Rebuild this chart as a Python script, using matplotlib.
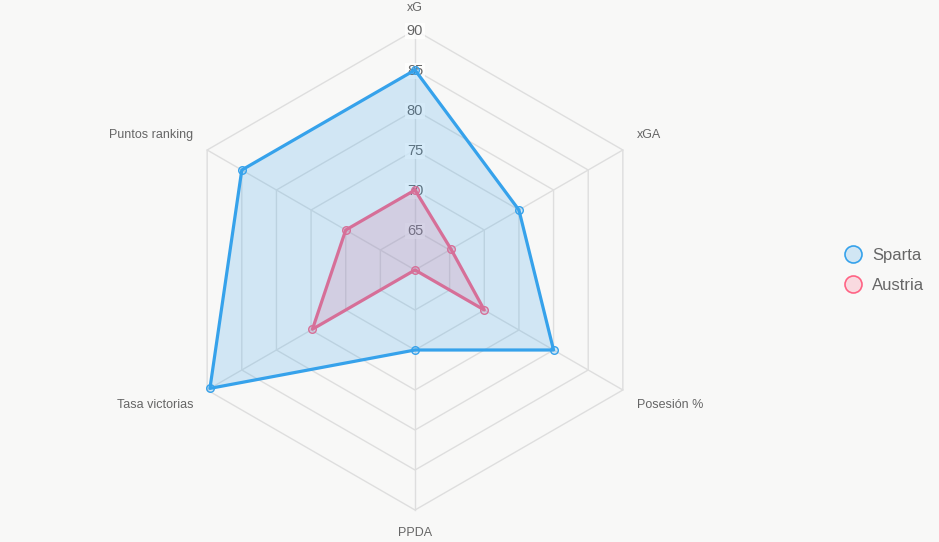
import numpy as np
import matplotlib.pyplot as plt

plt.rcParams['font.family'] = ['Liberation Sans', 'DejaVu Sans']

labels = ["xG", "xGA", "Posesión %", "PPDA", "Tasa victorias", "Puntos ranking"]
sparta = [85, 75, 80, 70, 89.6, 85]
austria = [70, 65.2, 70, 60, 74.8, 70]
ticks = [65, 70, 75, 80, 85, 90]
rmin = 60
rmax = 90

W, H = 939, 542
bg = "#f8f8f7"
cx, cy, R = 415, 270, 240

fig = plt.figure(figsize=(W/100, H/100), dpi=100, facecolor=bg)
ax = fig.add_axes([0, 0, 1, 1])
ax.set_xlim(0, W)
ax.set_ylim(H, 0)
ax.set_facecolor(bg)
ax.axis("off")

n = len(labels)
ang = np.arange(n) * 2*np.pi/n

def xy(vals):
    r = (np.asarray(vals, float) - rmin) / (rmax - rmin) * R
    x = cx + r*np.sin(ang)
    y = cy - r*np.cos(ang)
    return np.append(x, x[0]), np.append(y, y[0])

# grid
grid_col = "#dedede"
for t in ticks:
    gx, gy = xy([t]*n)
    ax.plot(gx, gy, color=grid_col, lw=1, zorder=1)
for i in range(n):
    ax.plot([cx, cx + R*np.sin(ang[i])], [cy, cy - R*np.cos(ang[i])], color=grid_col, lw=1, zorder=1)

# tick labels (under the data, like the scale)
for t in ticks:
    r = (t - rmin) / (rmax - rmin) * R
    ax.text(cx, cy - r + 1, str(t), ha="center", va="center", fontsize=10.5, color="#666666", zorder=1.5,
            bbox=dict(boxstyle="square,pad=0.1", fc=(1, 1, 1, 0.75), ec="none"))

# Austria (drawn below)
ax_, ay_ = xy(austria)
ax.fill(ax_, ay_, color=(1, 99/255, 132/255, 0.2), lw=0, zorder=2)
ax.plot(ax_, ay_, color="#FF6384", lw=2.3, zorder=3)
ax.scatter(ax_[:-1], ay_[:-1], s=30, facecolor=(1, 99/255, 132/255, 0.2), edgecolor="#FF6384", lw=1, zorder=4)

# Sparta on top
sx, sy = xy(sparta)
ax.fill(sx, sy, color=(54/255, 162/255, 235/255, 0.2), lw=0, zorder=5)
ax.plot(sx, sy, color="#36A2EB", lw=2.3, zorder=6)
ax.scatter(sx[:-1], sy[:-1], s=30, facecolor=(54/255, 162/255, 235/255, 0.2), edgecolor="#36A2EB", lw=1, zorder=7)

# point labels
lx, ly = xy([rmax]*n)
offs = [(0, -22, "center"), (14, -15, "left"), (14, 15, "left"),
        (0, 23, "center"), (-14, 15, "right"), (-14, -15, "right")]
for i, lab in enumerate(labels):
    dx, dy, ha = offs[i]
    ax.text(lx[i] + dx, ly[i] + dy, lab, ha=ha, va="center", fontsize=9, color="#666666")

# legend
leg = [("Sparta", (54/255, 162/255, 235/255, 0.2), "#36A2EB"),
       ("Austria", (1, 99/255, 132/255, 0.2), "#FF6384")]
for k, (name, fc, ec) in enumerate(leg):
    yy = 254 + 30*k
    ax.scatter([853], [yy], s=150, facecolor=fc, edgecolor=ec, lw=1.2, zorder=9)
    ax.text(872, yy + 1.5, name, ha="left", va="center", fontsize=12, color="#666666")

fig.savefig("out.png", dpi=100, facecolor=bg)
